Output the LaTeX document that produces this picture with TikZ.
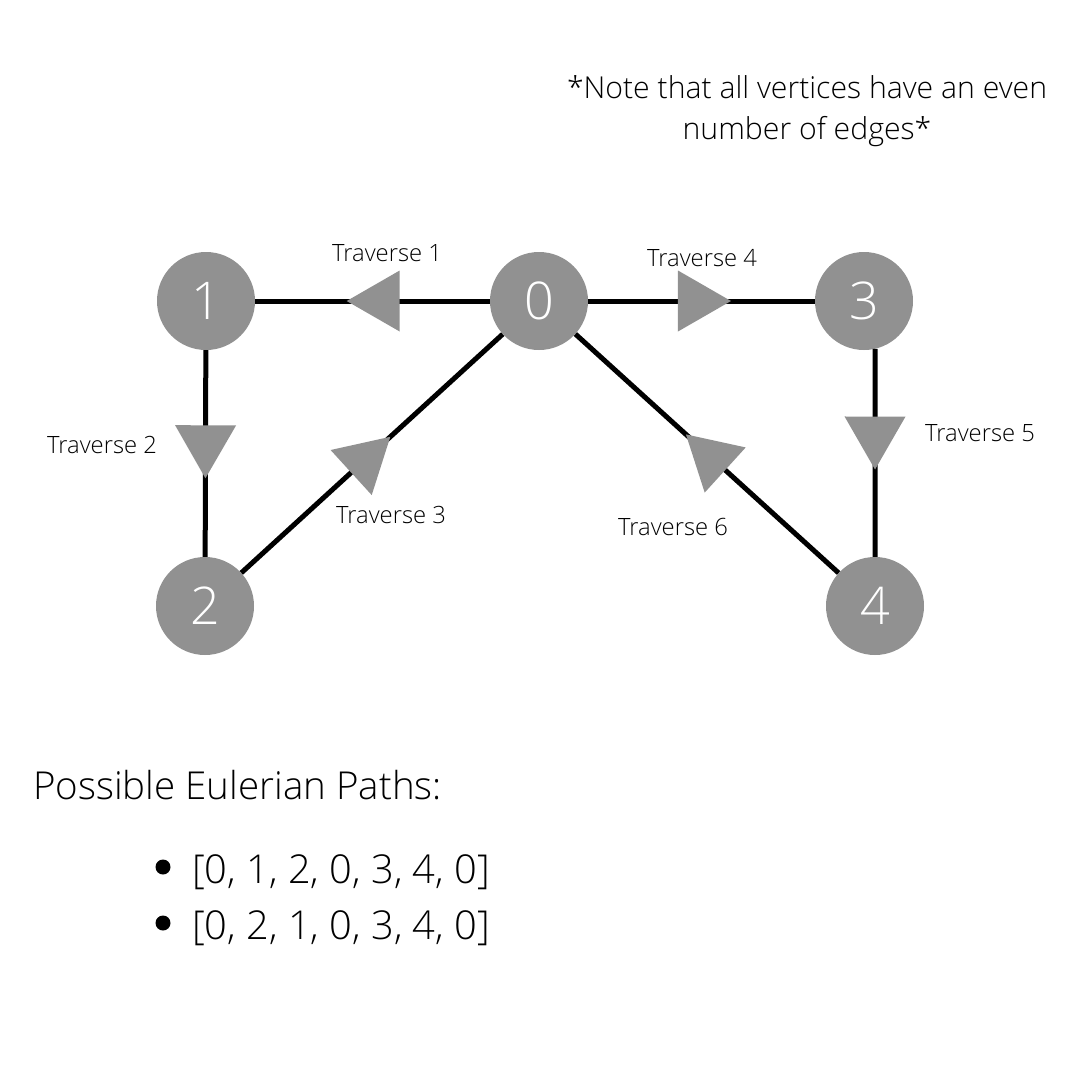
\documentclass[tikz,border=0pt]{standalone}
\usepackage{fontspec}
\setmainfont{Open Sans Light}
\usetikzlibrary{decorations.markings}
\usetikzlibrary{arrows.meta}

\definecolor{vgray}{HTML}{919191}

\tikzset{
    vertex/.style={circle, fill=vgray, minimum size=98pt, inner sep=0pt,
        text=white, font=\fontsize{52}{52}\selectfont},
    edge/.style={line width=5pt, black},
    trav/.style={postaction={decorate}, decoration={markings,
        mark=at position #1 with {\arrow[color=vgray]{Triangle[length=53pt,width=61pt,line width=0pt]}}}},
    travlabel/.style={inner sep=0pt, font=\fontsize{23.8}{28}\selectfont},
    listtext/.style={inner sep=0pt, anchor=base west, font=\fontsize{39.8}{44}\selectfont},
}

\begin{document}
\begin{tikzpicture}[x=1pt, y=-1pt]
    \useasboundingbox (0,0) rectangle (1080,1080);
    \fill[white] (0,0) rectangle (1080,1080);

    % vertices
    \node[vertex] (n0) at (539,301) {0};
    \node[vertex] (n1) at (206,301) {1};
    \node[vertex] (n2) at (205,606) {2};
    \node[vertex] (n3) at (864,301) {3};
    \node[vertex] (n4) at (875,606) {4};

    % edges, in the order they are traversed
    \draw[edge, trav=0.61] (n0) -- (n1);
    \draw[edge, trav=0.62] (n1) -- (n2);
    \draw[edge, trav=0.57] (n2) -- (n0);
    \draw[edge, trav=0.63] (n0) -- (n3);
    \draw[edge, trav=0.58] (n3.-77) -- (n4);
    \draw[edge, trav=0.58] (n4) -- (n0);

    \node[travlabel] (t1) at (387,253) {Traverse 1};
    \node[travlabel] (t2) at (102,445) {Traverse 2};
    \node[travlabel] (t3) at (391,515) {Traverse 3};
    \node[travlabel] (t4) at (702,258) {Traverse 4};
    \node[travlabel] (t5) at (980,433) {Traverse 5};
    \node[travlabel] (t6) at (673,527) {Traverse 6};

    \node[inner sep=0pt, align=center, font=\fontsize{30.2}{41}\selectfont] (note) at (807,111)
        {*Note that all vertices have an even\\number of edges*};

    % list of paths
    \node[inner sep=0pt, anchor=base west, font=\fontsize{38.5}{44}\selectfont] (title) at (33,799)
        {Possible Eulerian Paths:};
    \fill (163,867) circle (7.5);
    \fill (163,923) circle (7.5);
    \node[listtext] (p1) at (192,883) {[0, 1, 2, 0, 3, 4, 0]};
    \node[listtext] (p2) at (192,939) {[0, 2, 1, 0, 3, 4, 0]};
\end{tikzpicture}
\end{document}
